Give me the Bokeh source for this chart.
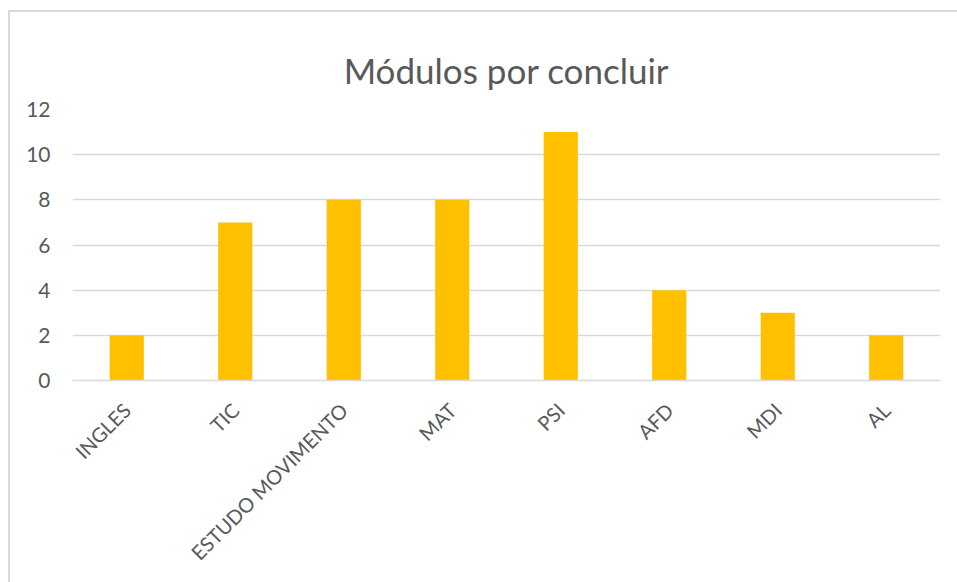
import math
from bokeh.plotting import figure
from bokeh.models import Range1d, FactorRange, SingleIntervalTicker
from bokeh.embed import file_html
from bokeh.resources import INLINE

categories = ["INGLES", "TIC", "ESTUDO MOVIMENTO", "MAT", "PSI", "AFD", "MDI", "AL"]
values = [2, 7, 8, 8, 11, 4, 3, 2]
title_text = "Módulos por concluir"

TEXT = "#595959"
GRID = "#d9d9d9"
FONT = "Lato"

p = figure(width=960, height=575, x_range=FactorRange(*categories, range_padding=0),
           y_range=Range1d(0, 12), output_backend="svg", toolbar_location=None,
           title=title_text, min_border_left=62, min_border_right=30,
           min_border_top=97, min_border_bottom=207)
p.styles = {"margin-left": "8px", "margin-top": "10px",
            "border-left": f"2px solid {GRID}", "border-top": f"2px solid {GRID}"}

p.vbar(x=categories, top=values, width=0.315, color="#FFC000", line_color=None)

p.title.align = "center"
p.title.vertical_align = "top"
p.title.text_font = FONT
p.title.text_font_style = "normal"
p.title.text_font_size = "35px"
p.title.text_color = TEXT
p.title.standoff = 33

p.outline_line_color = None
p.xgrid.grid_line_color = None
p.ygrid.grid_line_color = GRID
p.ygrid.grid_line_width = 1.5

p.yaxis.ticker = SingleIntervalTicker(interval=2)
p.yaxis.axis_line_color = None
p.yaxis.major_tick_line_color = None
p.yaxis.minor_tick_line_color = None
p.yaxis.major_label_text_font = FONT
p.yaxis.major_label_text_font_size = "21px"
p.yaxis.major_label_text_color = TEXT
p.yaxis.major_label_standoff = 16

p.xaxis.axis_line_color = GRID
p.xaxis.axis_line_width = 1.5
p.xaxis.major_tick_line_color = None
p.xaxis.minor_tick_line_color = None
p.xaxis.major_label_orientation = math.pi / 4
p.xaxis.major_label_text_font = FONT
p.xaxis.major_label_text_font_size = "20px"
p.xaxis.major_label_text_color = TEXT
p.xaxis.major_label_standoff = 20

p.background_fill_color = "white"
p.border_fill_color = "white"

open("out.html", "w").write(file_html(p, INLINE))
